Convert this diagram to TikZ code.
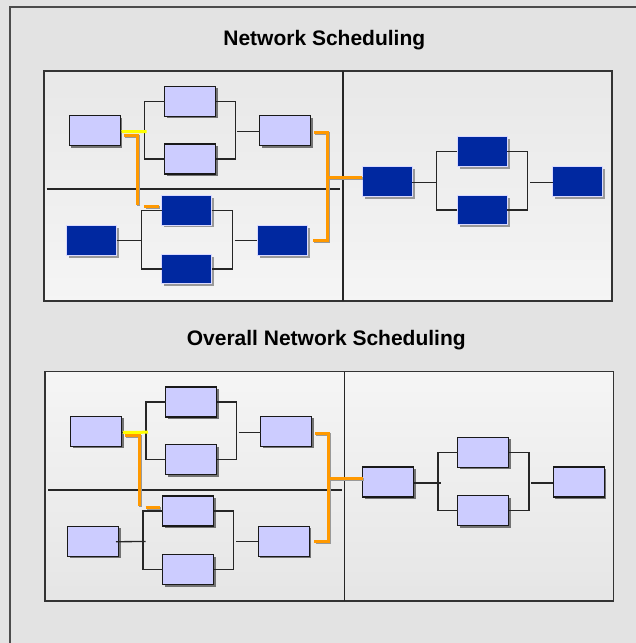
\documentclass[tikz,border=0pt]{standalone}
\usepackage{fontspec}
\setmainfont{Liberation Sans}
\usetikzlibrary{shadows,calc}

\definecolor{lavender}{HTML}{CCCCFF}
\definecolor{navy}{RGB}{0,40,160}
\definecolor{netorange}{HTML}{FF9900}
\definecolor{netyellow}{HTML}{FFFF00}
\definecolor{bgdark}{HTML}{E3E3E3}
\definecolor{bglight}{HTML}{F3F3F3}

\tikzset{
  box/.style={minimum width=51pt, minimum height=30pt, inner sep=0pt, outer sep=0pt},
  lightbox/.style={box, fill=lavender, draw=black!90, line width=1.2pt,
    drop shadow={shadow xshift=2pt, shadow yshift=-2pt, fill=black!55, opacity=1}},
  darkbox/.style={box, minimum width=50pt, minimum height=29.5pt, fill=navy,
    draw=white!85!blue, line width=0.8pt,
    drop shadow={shadow xshift=2.5pt, shadow yshift=-2.5pt, fill=black!40, opacity=1}},
  link/.style={draw=black!85, line width=1.3pt},
  panelframe/.style={draw=black!80, line width=1.4pt},
  divider/.style={draw=black!85, line width=1.3pt},
  hilite/.style={draw=netorange, line width=3pt, line join=miter,
    preaction={draw=black!40, line width=3pt, transform canvas={shift={(1.2pt,-1.2pt)}}}},
  yellowbar/.style={draw=netyellow, line width=3pt},
  heading/.style={font=\bfseries\fontsize{21}{25}\selectfont, anchor=base, inner sep=0pt}
}

% One scheduling network: #1 name prefix, #2 scope options (placement),
% #3 style of the lower-left boxes, #4 style of the right-hand boxes
\newcommand\netpanel[4]{%
\begin{scope}[#2]
  % upper-left branch
  \node[lightbox] (#1A)  at (94.7,130.5) {};
  \node[lightbox] (#1B1) at (190,101.2) {};
  \node[lightbox] (#1B2) at (190,159) {};
  \node[lightbox] (#1C)  at (285,130.5) {};
  % lower-left branch
  \node[#3] (#1E)  at (91.7,240.5) {};
  \node[#3] (#1F1) at (186.7,210.2) {};
  \node[#3] (#1F2) at (186.7,269) {};
  \node[#3] (#1G)  at (282.3,240.5) {};
  % right-hand network
  \node[#4] (#1D)  at (387,181.3) {};
  \node[#4] (#1H1) at (482,151.5) {};
  \node[#4] (#1H2) at (482,210) {};
  \node[#4] (#1I)  at (577.5,181.3) {};
  % fork / join points
  \coordinate (#1al) at (144.7,131.5);
  \coordinate (#1ar) at (235.3,131.5);
  \coordinate (#1el) at (141.7,240.8);
  \coordinate (#1er) at (232.3,240.8);
  \coordinate (#1dl) at (436.7,182.3);
  \coordinate (#1dr) at (527.7,182.3);
  % connectors
  \draw[link] (#1A.east |- #1al) -- (#1al);
  \draw[link] (#1B1.west) -| (#1al) |- (#1B2.west);
  \draw[link] (#1B1.east) -| (#1ar) |- (#1B2.east);
  \draw[link] ($(#1ar)+(2,0)$) -- (#1C.west |- #1ar);
  \draw[link] (#1E.east |- #1el) -- (#1el);
  \draw[link] (#1F1.west) -| (#1el) |- (#1F2.west);
  \draw[link] (#1F1.east) -| (#1er) |- (#1F2.east);
  \draw[link] ($(#1er)+(2.4,0)$) -- (#1G.west |- #1er);
  \draw[link] (#1D.east |- #1dl) -- (#1dl);
  \draw[link] (#1H1.west) -| (#1dl) |- (#1H2.west);
  \draw[link] (#1H1.east) -| (#1dr) |- (#1H2.east);
  \draw[link] ($(#1dr)+(2.3,0)$) -- (#1I.west |- #1dr);
  % highlighted path
  \coordinate (#1oj) at (327.3,177.7);
  \draw[yellowbar] ($(#1A.east)+(1.3,1.2)$) -- ($(#1al)+(2,0)$);
  \draw[hilite] ($(#1A.east)+(3.3,4.5)$) -- (137.7,135) -- (137.7,205.2);
  \draw[hilite] (144.3,206.7) -- ($(#1F1.west)+(-3,-3.5)$);
  \draw[hilite] ($(#1C.east)+(3.3,2.2)$) -- (327.3,132.7) -- (327.3,240.3)
                -- ($(#1G.east)+(5.3,-0.2)$);
  \draw[hilite] (#1oj) -- (#1oj -| #1D.west);
\end{scope}}

\begin{document}
\begin{tikzpicture}[x=1pt, y=-1pt]
  \useasboundingbox (0,0) rectangle (636,643);
  % backdrop and outer frame
  \shade[top color=bgdark, middle color=bglight, bottom color=bgdark]
    (0,0) rectangle (636,643);
  \draw[draw=black!70, line width=1.2pt] (10,660) -- (10,7) -- (650,7);

  % first panel
  \node[heading] (title1) at (324.3,45.7) {Network Scheduling};
  \shade[top color=black!9, bottom color=black!4] (44,71) rectangle (612,301);
  \draw[panelframe] (44,71) rectangle (612,301);
  \draw[divider] (343,71) -- (343,301);
  \draw[divider] (46.7,189) -- (340,189);
  \netpanel{t}{}{darkbox}{darkbox}

  % second panel
  \node[heading] (title2) at (326.3,345) {Overall Network Scheduling};
  \shade[top color=black!4, bottom color=black!10] (45,371.7) rectangle (613.7,601);
  \draw[panelframe] (45,371.7) rectangle (613.7,601);
  \draw[divider] (344.3,371.7) -- (344.3,601);
  \draw[divider] (48.3,490) -- (341.7,490);
  \begin{scope}[transform canvas={shift={(1.3pt,-300.7pt)}}]
    \netpanel{b}{}{lightbox}{lightbox}
    % stubs running past the fork points
    \draw[link] ($(bE.east)+(-2.5,0.5)$) -- ($(bel)+(2.7,0)$);
    \draw[link] (bD.east |- bdl) -- ($(bdl)+(3.3,0)$);
  \end{scope}
\end{tikzpicture}
\end{document}
